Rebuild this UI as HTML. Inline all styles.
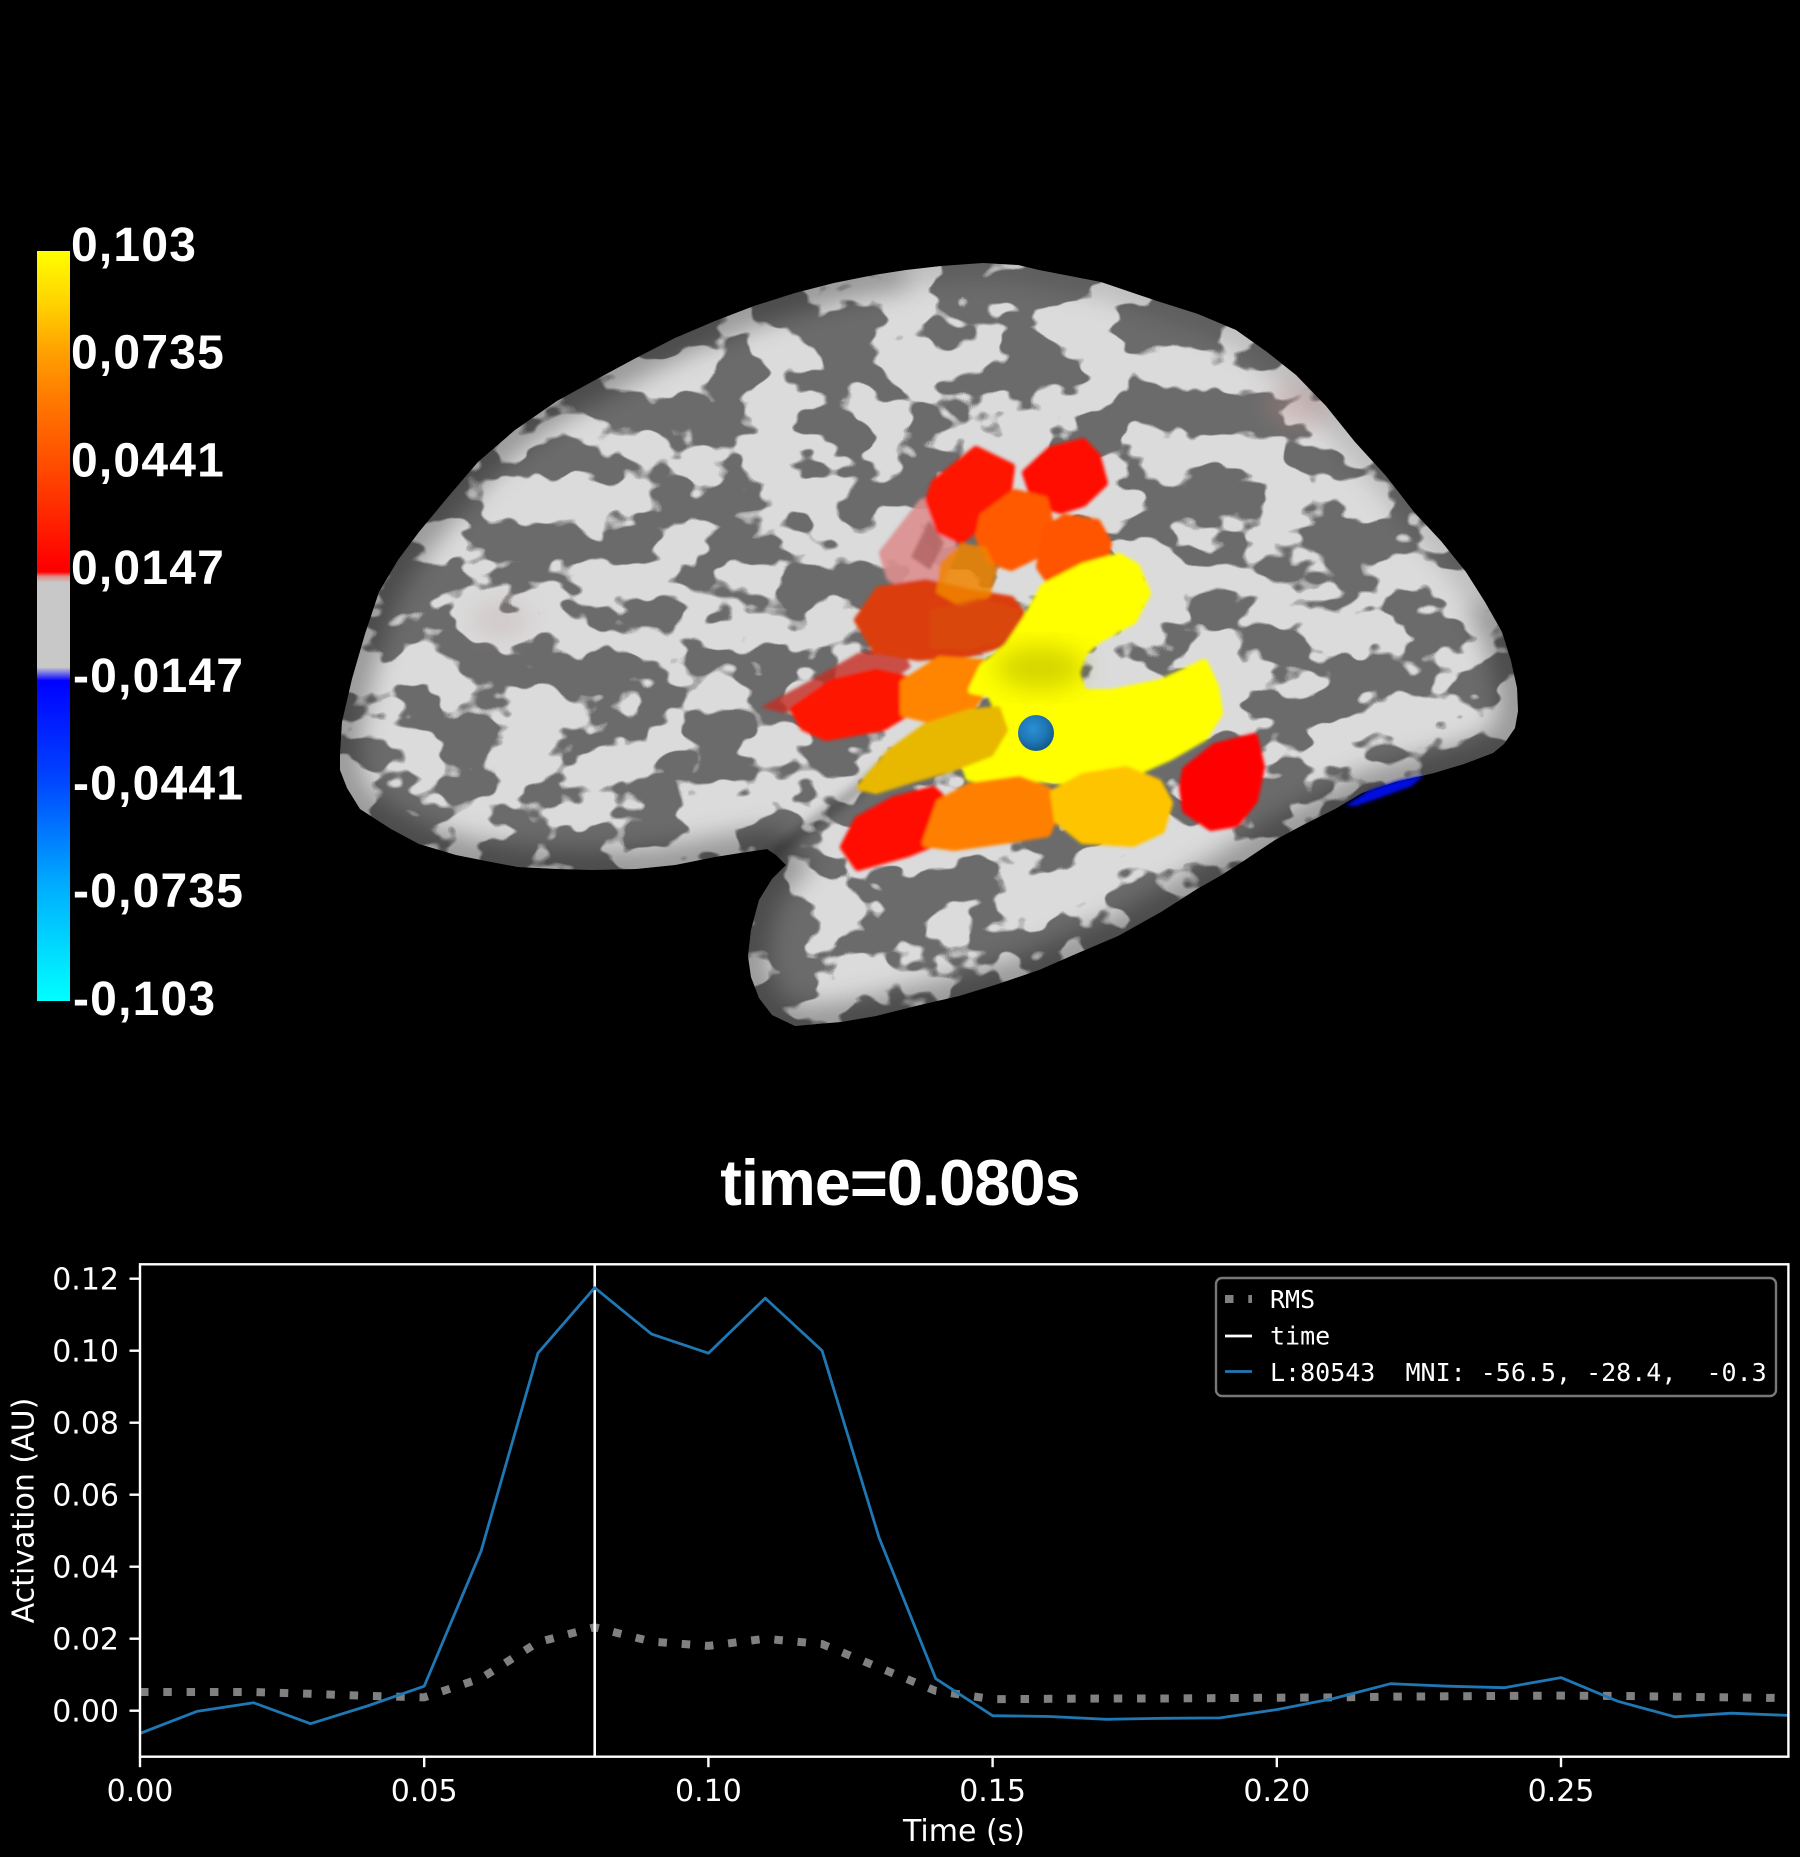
<!DOCTYPE html>
<html><head><meta charset="utf-8">
<style>
html,body{margin:0;padding:0;background:#000;}
svg{display:block;}
</style></head>
<body>
<svg width="1800" height="1857" viewBox="0 0 1800 1857" xmlns="http://www.w3.org/2000/svg">
<defs>
  <linearGradient id="cbar" x1="0" y1="0" x2="0" y2="1">
    <stop offset="0" stop-color="#ffff00"/>
    <stop offset="0.07" stop-color="#ffd200"/>
    <stop offset="0.1356" stop-color="#ffa000"/>
    <stop offset="0.2" stop-color="#ff7800"/>
    <stop offset="0.279" stop-color="#ff5000"/>
    <stop offset="0.35" stop-color="#ff2800"/>
    <stop offset="0.42" stop-color="#ff0000"/>
    <stop offset="0.428" stop-color="#ff0000"/>
    <stop offset="0.434" stop-color="#e08a8a"/>
    <stop offset="0.442" stop-color="#c8c8c8"/>
    <stop offset="0.555" stop-color="#c8c8c8"/>
    <stop offset="0.563" stop-color="#7070e8"/>
    <stop offset="0.573" stop-color="#0000ff"/>
    <stop offset="0.709" stop-color="#0048ff"/>
    <stop offset="0.851" stop-color="#00b0ff"/>
    <stop offset="1" stop-color="#00ffff"/>
  </linearGradient>
  <filter id="tex" x="320" y="240" width="1220" height="800" filterUnits="userSpaceOnUse" color-interpolation-filters="sRGB">
    <feTurbulence type="fractalNoise" baseFrequency="0.016 0.023" numOctaves="3" seed="5" result="n"/>
    <feColorMatrix in="n" type="matrix" values="1 0 0 0 0  1 0 0 0 0  1 0 0 0 0  0 0 0 0 1" result="g"/>
    <feComponentTransfer in="g" result="t">
      <feFuncR type="linear" slope="20" intercept="-9.45"/>
      <feFuncG type="linear" slope="20" intercept="-9.45"/>
      <feFuncB type="linear" slope="20" intercept="-9.45"/>
    </feComponentTransfer>
    <feComponentTransfer in="t">
      <feFuncR type="linear" slope="0.44" intercept="0.42"/>
      <feFuncG type="linear" slope="0.44" intercept="0.42"/>
      <feFuncB type="linear" slope="0.44" intercept="0.42"/>
    </feComponentTransfer>
  </filter>
  <filter id="edgeblur" x="-10%" y="-10%" width="120%" height="120%">
    <feGaussianBlur stdDeviation="12"/>
  </filter>
  <filter id="crease" x="-20%" y="-20%" width="140%" height="140%">
    <feGaussianBlur stdDeviation="5"/>
  </filter>
  <filter id="soft" x="-10%" y="-10%" width="120%" height="120%">
    <feGaussianBlur stdDeviation="1.6"/>
  </filter>
  <filter id="vsoft" x="-30%" y="-30%" width="160%" height="160%">
    <feGaussianBlur stdDeviation="12"/>
  </filter>
  <radialGradient id="dot" cx="0.42" cy="0.38" r="0.62">
    <stop offset="0" stop-color="#2b8fd6"/>
    <stop offset="0.6" stop-color="#1f77b4"/>
    <stop offset="1" stop-color="#135a8c"/>
  </radialGradient>
  <clipPath id="brainclip">
    <path d="M340,754 L342,722 352,679 365,634 379,592 398,560 419,532 448,497 478,462 515,430 557,401 597,379 636,358 675,338 715,321 754,306 795,293 834,283 874,275 906,270 941,266 983,263 1018,265 1039,270 1101,282 1157,301 1198,314 1236,330 1267,352 1296,375 1326,406 1355,442 1386,476 1414,512 1441,541 1466,572 1485,602 1502,632 1511,661 1517,688 1518,711 1515,728 1504,744 1493,753 1464,764 1434,773 1395,782 1362,793 1335,809 1303,825 1275,840 1245,860 1220,876 1197,889 1161,912 1118,936 1078,953 1039,970 998,984 959,996 920,1005 876,1016 841,1022 817,1024 795,1026 772,1015 759,998 751,977 748,956 751,930 759,900 772,879 786,865 776,855 767,849 740,853 715,857 675,865 636,869 592,870 557,869 518,867 486,861 456,855 419,844 391,829 360,809 347,788 340,770 Z"/>
  </clipPath>
  <clipPath id="plotclip">
    <rect x="140" y="1264.3" width="1648.4" height="492.4"/>
  </clipPath>
</defs>

<rect x="0" y="0" width="1800" height="1857" fill="#000"/>

<!-- ================= BRAIN ================= -->
<g clip-path="url(#brainclip)">
  <rect x="330" y="250" width="1200" height="790" fill="#bbb" filter="url(#tex)"/>
  <path d="M906,270 L874,275 834,283 795,293 754,306 715,321 675,338 636,358 597,379 557,401 515,430 478,462 448,497 419,532 398,560 379,592 365,634 352,679 342,722 340,754 340,770 347,788 360,809 391,829 419,844 456,855 486,861 518,867 557,869 592,870 636,869 675,865 715,857 740,853 767,849 776,855 786,865 772,879 759,900 751,930 748,956 751,977 759,998 772,1015 795,1026 817,1024 841,1022 876,1016 920,1005 959,996 998,984 1039,970 1078,953 1118,936 1161,912 1197,889 1220,876 1245,860 1275,840 1303,825 1335,809 1362,793 1395,782 1434,773 1464,764 1493,753 1504,744 1515,728 1518,711 1517,688 1511,661 1502,632 1485,602" fill="none" stroke="#000" stroke-opacity="0.3" stroke-width="40" filter="url(#edgeblur)"/>
  <path d="M906,270 L941,266 983,263 1018,265 1039,270 1101,282 1157,301 1198,314 1236,330 1267,352 1296,375 1326,406 1355,442 1386,476 1414,512 1441,541 1466,572 1485,602" fill="none" stroke="#000" stroke-opacity="0.14" stroke-width="30" filter="url(#edgeblur)"/>
  <path d="M772,856 Q815,822 868,782 Q905,752 940,735" fill="none" stroke="#000" stroke-opacity="0.3" stroke-width="10" filter="url(#crease)"/>
  <ellipse cx="1300" cy="405" rx="34" ry="22" fill="#b98888" opacity="0.35" filter="url(#vsoft)"/>
  <ellipse cx="500" cy="620" rx="30" ry="20" fill="#b99a9a" opacity="0.25" filter="url(#vsoft)"/>

  <g filter="url(#soft)" stroke-linejoin="round" stroke-width="8">
    <polygon points="883,553 922,503 933,500 954,550 940,580 908,587 890,577" fill="#dc9090" stroke="#dc9090" opacity="0.9"/>
    <polygon points="911,557 929,520 944,543 930,570" fill="#b06262" opacity="0.8"/>
    <polygon points="761,707 811,680 858,653 901,647 911,667 883,687 829,703 783,713" fill="#c42a22" opacity="0.8"/>
    <polygon points="858,620 879,590 926,583 969,593 1011,600 1026,620 1015,640 969,653 919,657 876,650" fill="#dc3c0c" stroke="#dc3c0c"/>
    <polygon points="935,483 976,450 1011,467 1006,507 986,520 961,540 940,530 929,500" fill="#ff1200" stroke="#ff1200"/>
    <polygon points="1026,473 1051,450 1083,442 1097,457 1104,483 1083,503 1061,510 1036,503" fill="#ff1000" stroke="#ff1000"/>
    <polygon points="983,517 1015,493 1044,500 1051,527 1040,553 1011,567 990,560 979,537" fill="#ff5a00" stroke="#ff5a00"/>
    <polygon points="1047,530 1065,518 1097,523 1108,543 1104,567 1083,583 1054,587 1040,567" fill="#ff5500" stroke="#ff5500"/>
    <polygon points="940,563 961,543 986,547 997,570 990,597 961,607 936,593" fill="#f08400" opacity="0.85"/>
    <polygon points="930,610 980,598 1020,610 1015,638 970,650 930,648" fill="#d84a10" opacity="0.7"/>
    <polygon points="794,710 833,683 876,673 908,680 911,710 883,727 826,737 804,727" fill="#ff1500" stroke="#ff1500"/>
    <polygon points="904,683 940,660 983,663 986,687 969,710 933,720 904,713" fill="#ff8400" stroke="#ff8400"/>
    <polygon points="1026,620 1044,587 1083,567 1119,557 1136,567 1147,593 1133,620 1097,640 1083,653 1076,673 1083,693 1111,693 1161,683 1204,663 1215,687 1219,713 1204,737 1169,757 1133,773 1097,780 1061,780 1026,777 990,780 969,777 961,753 976,727 997,707 990,693 972,690 983,667 1008,647" fill="#ffff00" stroke="#ffff00"/>
    <polygon points="861,787 890,753 926,727 969,713 997,710 1004,730 990,753 954,767 908,780 876,790" fill="#e8b800" stroke="#e8b800"/>
    <polygon points="844,847 858,820 894,800 933,790 951,807 940,840 908,853 858,867" fill="#ff0a00" stroke="#ff0a00"/>
    <polygon points="940,803 969,787 1019,780 1047,790 1058,807 1047,833 1004,840 954,847 926,843" fill="#ff8000" stroke="#ff8000"/>
    <polygon points="1054,793 1083,777 1126,770 1158,783 1169,803 1161,830 1133,843 1083,840 1058,820" fill="#ffc400" stroke="#ffc400"/>
    <polygon points="1186,770 1215,747 1254,737 1261,767 1254,800 1236,823 1211,827 1186,810 1183,787" fill="#ff0000" stroke="#ff0000"/>
  </g>
  <ellipse cx="1040" cy="668" rx="45" ry="22" fill="#8a8a00" opacity="0.35" filter="url(#vsoft)"/>
</g>
<polygon points="1345,806 1370,790 1400,780 1424,775 1412,786 1382,797 1356,806" fill="#0010e0" filter="url(#soft)"/>
<circle cx="1036" cy="733" r="18" fill="url(#dot)"/>

<!-- ================= COLORBAR ================= -->
<rect x="37" y="251" width="33" height="750" fill="url(#cbar)"/>
<g font-family="Liberation Sans, Arial, sans-serif" font-weight="bold" font-size="48" letter-spacing="1.2" fill="#fff">
  <text x="71" y="260.8">0,103</text>
  <text x="71" y="368.5">0,0735</text>
  <text x="71" y="476.3">0,0441</text>
  <text x="71" y="584">0,0147</text>
  <text x="73" y="691.8">-0,0147</text>
  <text x="73" y="799.5">-0,0441</text>
  <text x="73" y="907.2">-0,0735</text>
  <text x="73" y="1015">-0,103</text>
</g>

<!-- ================= TITLE ================= -->
<text x="900" y="1205" font-family="Liberation Sans, Arial, sans-serif" font-weight="bold" font-size="65" letter-spacing="-1" text-anchor="middle" fill="#fff">time=0.080s</text>

<!-- ================= PLOT ================= -->
<g clip-path="url(#plotclip)">
  <polyline fill="none" stroke="#808080" stroke-width="8" stroke-dasharray="8.5 14.8"
    points="140,1692 196.84,1692 253.68,1692 310.52,1693.8 367.36,1695.9 424.2,1697.4 481.04,1678.3 537.88,1642.3 594.72,1627.2 651.56,1641.6 708.4,1645.9 765.24,1638.7 822.08,1644.1 878.92,1667.5 935.76,1690.9 992.6,1699.2 1049.44,1698.8 1106.28,1698.5 1163.12,1698.5 1219.96,1698.1 1276.8,1697.7 1333.64,1697.4 1390.48,1696.7 1447.32,1696.3 1504.16,1695.9 1561,1695.6 1617.84,1695.9 1674.68,1696.7 1731.52,1697.4 1788.36,1698.1"/>
  <line x1="594.72" y1="1264.3" x2="594.72" y2="1756.7" stroke="#fff" stroke-width="2.6"/>
  <polyline fill="none" stroke="#1f77b4" stroke-width="2.8" stroke-linejoin="round"
    points="140,1733.4 196.84,1711.4 253.68,1702.8 310.52,1723.7 367.36,1706 424.2,1686.2 481.04,1551.2 537.88,1353.2 594.72,1287.7 651.56,1334.1 708.4,1353.2 765.24,1298.1 822.08,1350.7 878.92,1537.2 935.76,1678.7 992.6,1715.7 1049.44,1716.5 1106.28,1719.3 1163.12,1718.3 1219.96,1717.9 1276.8,1709.6 1333.64,1698.5 1390.48,1683.7 1447.32,1686.2 1504.16,1687.7 1561,1677.6 1617.84,1701.3 1674.68,1716.8 1731.52,1713.2 1788.36,1715.4"/>
</g>
<rect x="140" y="1264.3" width="1648.4" height="492.4" fill="none" stroke="#fff" stroke-width="2.4"/>
<g stroke="#fff" stroke-width="2.4">
  <line x1="129.5" y1="1710.7" x2="140" y2="1710.7"/>
  <line x1="129.5" y1="1638.7" x2="140" y2="1638.7"/>
  <line x1="129.5" y1="1566.7" x2="140" y2="1566.7"/>
  <line x1="129.5" y1="1494.7" x2="140" y2="1494.7"/>
  <line x1="129.5" y1="1422.7" x2="140" y2="1422.7"/>
  <line x1="129.5" y1="1350.7" x2="140" y2="1350.7"/>
  <line x1="129.5" y1="1278.7" x2="140" y2="1278.7"/>
  <line x1="140" y1="1756.7" x2="140" y2="1767.2"/>
  <line x1="424.2" y1="1756.7" x2="424.2" y2="1767.2"/>
  <line x1="708.4" y1="1756.7" x2="708.4" y2="1767.2"/>
  <line x1="992.6" y1="1756.7" x2="992.6" y2="1767.2"/>
  <line x1="1276.8" y1="1756.7" x2="1276.8" y2="1767.2"/>
  <line x1="1561" y1="1756.7" x2="1561" y2="1767.2"/>
</g>
<g font-family="DejaVu Sans, sans-serif" font-size="30" fill="#fff">
  <g text-anchor="end">
    <text x="119" y="1721.6">0.00</text>
    <text x="119" y="1649.6">0.02</text>
    <text x="119" y="1577.6">0.04</text>
    <text x="119" y="1505.6">0.06</text>
    <text x="119" y="1433.6">0.08</text>
    <text x="119" y="1361.6">0.10</text>
    <text x="119" y="1289.6">0.12</text>
  </g>
  <g text-anchor="middle">
    <text x="140" y="1801">0.00</text>
    <text x="424.2" y="1801">0.05</text>
    <text x="708.4" y="1801">0.10</text>
    <text x="992.6" y="1801">0.15</text>
    <text x="1276.8" y="1801">0.20</text>
    <text x="1561" y="1801">0.25</text>
    <text x="964" y="1841">Time (s)</text>
  </g>
  <text transform="translate(33.6,1510.5) rotate(-90)" text-anchor="middle">Activation (AU)</text>
</g>

<rect x="1216" y="1278" width="560" height="118" rx="6" ry="6" fill="#000" stroke="#777" stroke-width="2.4"/>
<line x1="1225" y1="1299" x2="1252" y2="1299" stroke="#808080" stroke-width="8" stroke-dasharray="8.5 14.8"/>
<line x1="1225" y1="1336" x2="1252" y2="1336" stroke="#fff" stroke-width="2.8"/>
<line x1="1225" y1="1371.5" x2="1252" y2="1371.5" stroke="#1f77b4" stroke-width="2.8"/>
<g font-family="DejaVu Sans Mono, monospace" font-size="25" fill="#fff" style="white-space:pre">
  <text x="1270" y="1308">RMS</text>
  <text x="1270" y="1344.5">time</text>
  <text x="1270" y="1381" xml:space="preserve">L:80543  MNI: -56.5, -28.4,  -0.3</text>
</g>
</svg>
</body></html>
